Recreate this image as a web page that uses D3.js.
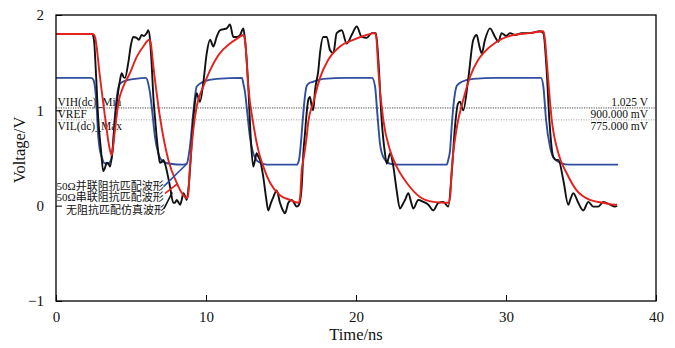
<!DOCTYPE html>
<html lang="en">
<head>
<meta charset="utf-8">
<title>Termination waveforms</title>
<script src="https://d3js.org/d3.v7.min.js"></script>
<style>
  body { margin: 0; background: #fff; }
  svg text { font-family: "Liberation Serif", "Noto Sans CJK SC", serif; fill: #111; }
</style>
</head>
<body>
<div id="container"></div>
<script>
// time in ns, voltage in V
const timeTicks = [0, 10, 20, 30, 40];
const voltTicks = [-1, 0, 1, 2];

// threshold levels (V) and their labels
const levelValues = [1.025, 0.9, 0.775];
const levelNames = ["VIH(dc)_Min", "VREF", "VIL(dc)_Max"];
const levelReadouts = ["1.025 V", "900.000 mV", "775.000 mV"];
const drawnLevels = [1.025, 0.9];

// 50 ohm parallel termination
const parallelWave = [
  [0, 1.34], [2.33, 1.34], [2.49, 1.32], [2.6, 1.24], [2.71, 1.04], [2.82, 0.72], [2.93, 0.58],
  [3.05, 0.51], [3.2, 0.45], [3.47, 0.44], [3.67, 0.48], [3.8, 0.64], [3.93, 0.95], [4.07, 1.16],
  [4.27, 1.28], [4.6, 1.31], [5.27, 1.33], [6.0, 1.34], [6.15, 1.28], [6.27, 1.18], [6.38, 1.04],
  [6.6, 0.72], [6.82, 0.55], [7.15, 0.46], [7.6, 0.44], [8.49, 0.43], [8.71, 0.44], [8.83, 0.51],
  [8.93, 0.62], [9.15, 0.97], [9.38, 1.25], [9.82, 1.3], [10.71, 1.33], [12.4, 1.34], [12.49, 1.28],
  [12.6, 1.19], [12.71, 1.04], [12.93, 0.72], [13.15, 0.55], [13.49, 0.46], [14.05, 0.43],
  [16.05, 0.43], [16.2, 0.48], [16.3, 0.61], [16.45, 0.9], [16.57, 1.11], [16.7, 1.25], [16.82, 1.28],
  [17.15, 1.3], [17.82, 1.33], [19.38, 1.34], [21.07, 1.34], [21.27, 1.25], [21.42, 0.97],
  [21.6, 0.65], [21.82, 0.51], [22.27, 0.44], [22.93, 0.43], [26.05, 0.43], [26.15, 0.48],
  [26.27, 0.58], [26.38, 0.83], [26.49, 1.04], [26.6, 1.18], [26.73, 1.26], [27.05, 1.3],
  [27.82, 1.33], [29.38, 1.34], [32.33, 1.34], [32.49, 1.25], [32.67, 0.9], [32.93, 0.62],
  [33.15, 0.51], [33.6, 0.45], [34.27, 0.43], [37.47, 0.43]
];

// no termination
const unmatchedWave = [
  [0, 1.8], [2.4, 1.8], [2.53, 1.74], [2.67, 1.37], [2.82, 0.9], [3.0, 0.58], [3.15, 0.36],
  [3.27, 0.4], [3.38, 0.45], [3.5, 0.44], [3.6, 0.41], [3.77, 0.58], [3.93, 0.9], [4.1, 1.14],
  [4.27, 1.32], [4.38, 1.39], [4.5, 1.35], [4.6, 1.34], [4.82, 1.5], [5.0, 1.69], [5.15, 1.77],
  [5.38, 1.76], [5.53, 1.74], [5.71, 1.79], [5.87, 1.78], [6.05, 1.81], [6.15, 1.84], [6.27, 1.74],
  [6.38, 1.48], [6.49, 1.14], [6.6, 0.92], [6.71, 0.72], [6.82, 0.56], [6.93, 0.45], [7.05, 0.46],
  [7.15, 0.48], [7.27, 0.44], [7.38, 0.37], [7.6, 0.2], [7.82, 0.03], [7.93, 0.03], [8.05, 0.06],
  [8.15, 0.04], [8.27, 0.01], [8.38, 0.06], [8.49, 0.13], [8.6, 0.1], [8.71, 0.06], [8.82, 0.16],
  [8.93, 0.37], [9.15, 0.9], [9.27, 1.09], [9.38, 1.18], [9.49, 1.13], [9.6, 1.09], [9.82, 1.29],
  [10.05, 1.6], [10.27, 1.74], [10.49, 1.67], [10.71, 1.77], [10.93, 1.84], [11.13, 1.85],
  [11.38, 1.86], [11.6, 1.9], [11.82, 1.77], [12.05, 1.77], [12.27, 1.79], [12.49, 1.86],
  [12.6, 1.74], [12.82, 1.25], [12.98, 0.72], [13.15, 0.41], [13.27, 0.48], [13.38, 0.55],
  [13.5, 0.51], [13.6, 0.48], [13.82, 0.3], [14.0, 0.09], [14.15, -0.05], [14.33, 0.03],
  [14.49, 0.09], [14.71, 0.16], [14.93, 0.03], [15.13, -0.05], [15.27, -0.08], [15.49, 0.03],
  [15.71, 0.06], [15.87, 0.03], [16.05, -0.01], [16.2, 0.01], [16.38, 0.2], [16.49, 0.55],
  [16.6, 0.76], [16.71, 0.97], [16.82, 1.11], [16.93, 1.14], [17.05, 1.04], [17.15, 1.0],
  [17.27, 1.21], [17.49, 1.42], [17.6, 1.6], [17.82, 1.77], [18.05, 1.77], [18.27, 1.63],
  [18.49, 1.6], [18.71, 1.81], [19.05, 1.84], [19.38, 1.7], [19.71, 1.79], [20.05, 1.88],
  [20.38, 1.77], [20.71, 1.76], [21.05, 1.81], [21.33, 1.81], [21.49, 1.53], [21.71, 0.9],
  [21.93, 0.55], [22.05, 0.44], [22.17, 0.5], [22.27, 0.55], [22.49, 0.41], [22.71, 0.16],
  [22.93, -0.03], [23.1, 0.01], [23.27, 0.06], [23.49, 0.13], [23.67, 0.04], [23.82, -0.03],
  [24.15, 0.06], [24.49, 0.04], [24.82, 0.01], [25.15, -0.05], [25.49, 0.03], [25.82, 0.04],
  [26.15, -0.01], [26.38, 0.34], [26.6, 0.83], [26.8, 1.07], [26.93, 1.09], [27.15, 1.0],
  [27.49, 1.34], [27.82, 1.74], [28.05, 1.79], [28.2, 1.69], [28.38, 1.6], [28.6, 1.74],
  [28.93, 1.86], [29.27, 1.77], [29.49, 1.72], [29.71, 1.81], [30.0, 1.78], [30.27, 1.81],
  [30.6, 1.79], [31.05, 1.81], [31.6, 1.81], [32.27, 1.83], [32.49, 1.81], [32.71, 1.42],
  [32.89, 0.9], [33.15, 0.51], [33.33, 0.48], [33.49, 0.48], [33.82, 0.27], [34.15, 0.01],
  [34.3, 0.07], [34.49, 0.13], [34.82, 0.03], [35.15, -0.05], [35.49, 0.04], [35.82, -0.01],
  [36.15, -0.01], [36.49, 0.04], [36.93, 0.01], [37.27, -0.01], [37.4, 0.0]
];

// 50 ohm series termination
const seriesWave = [
  [0, 1.8], [2.47, 1.8], [2.6, 1.77], [2.93, 1.35], [3.27, 0.93], [3.6, 0.58], [3.71, 0.53],
  [3.93, 0.79], [4.15, 1.07], [4.49, 1.25], [4.93, 1.39], [5.38, 1.56], [5.82, 1.67], [6.22, 1.74],
  [6.3, 1.72], [6.49, 1.46], [6.93, 0.93], [7.49, 0.48], [8.05, 0.24], [8.4, 0.13], [8.71, 0.08],
  [8.8, 0.1], [8.93, 0.41], [9.15, 0.79], [9.38, 1.04], [9.82, 1.25], [10.27, 1.42], [10.93, 1.6],
  [11.6, 1.7], [12.15, 1.76], [12.49, 1.79], [12.6, 1.74], [12.82, 1.25], [13.15, 0.86],
  [13.49, 0.58], [13.82, 0.41], [14.27, 0.24], [14.93, 0.11], [15.6, 0.06], [16.15, 0.03],
  [16.27, 0.08], [16.38, 0.37], [16.49, 0.48], [16.71, 0.72], [16.82, 0.88], [17.15, 1.08],
  [17.6, 1.34], [18.15, 1.53], [18.93, 1.67], [19.82, 1.74], [20.71, 1.79], [21.27, 1.81],
  [21.37, 1.74], [21.49, 1.42], [21.82, 0.9], [22.27, 0.58], [22.71, 0.41], [23.38, 0.24],
  [24.27, 0.09], [25.15, 0.04], [26.15, 0.03], [26.27, 0.08], [26.38, 0.37], [26.71, 0.81],
  [27.15, 1.11], [27.6, 1.35], [28.15, 1.53], [28.49, 1.6], [29.38, 1.72], [30.49, 1.79],
  [31.6, 1.81], [32.49, 1.83], [32.6, 1.74], [32.71, 1.53], [33.05, 0.9], [33.49, 0.55],
  [34.05, 0.34], [34.71, 0.16], [35.6, 0.06], [36.49, 0.03], [37.27, 0.01], [37.4, 0.01]
];

// legend rows: text, leader start, leader end (t, V)
const legendNames = ["50Ω并联阻抗匹配波形", "50Ω串联阻抗匹配波形", "无阻抗匹配仿真波形"];
const leaderFrom = [[7.17, 0.2], [7.27, 0.13], [7.2, -0.03]];
const leaderTo = [[8.73, 0.44], [8.1, 0.23], [7.75, 0.14]];

const w = 675, h = 348;
const plotL = 56, plotR = 656, plotT = 15, plotB = 301;

const svg = d3.select("#container").append("svg")
  .attr("width", w).attr("height", h)
  .attr("viewBox", `0 0 ${w} ${h}`);

const x = d3.scaleLinear().domain([0, 40]).range([plotL, plotR]);
const y = d3.scaleLinear().domain([-1, 2]).range([plotB, plotT]);

// threshold lines
const levelStyle = [{ c: "#444", d: "1.2,1.2" }, { c: "#9a9a9a", d: "1,1.5" }];
svg.append("g").selectAll("line").data(drawnLevels).join("line")
  .attr("x1", plotL).attr("x2", plotR - 1)
  .attr("y1", d => y(d)).attr("y2", d => y(d))
  .attr("stroke", (d, i) => levelStyle[i].c)
  .attr("stroke-width", 1)
  .attr("stroke-dasharray", (d, i) => levelStyle[i].d);

svg.append("g").selectAll("text").data(levelNames).join("text")
  .attr("x", plotL + 1.5)
  .attr("y", (d, i) => y(levelValues[i]) - 2)
  .attr("font-size", 11.5)
  .text(d => d);

svg.append("g").selectAll("text").data(levelReadouts).join("text")
  .attr("x", 648)
  .attr("y", (d, i) => y(levelValues[i]) - 2)
  .attr("text-anchor", "end")
  .attr("font-size", 11.5)
  .text(d => d);

// waveforms
const line = d3.line().x(d => x(d[0])).y(d => y(d[1])).curve(d3.curveMonotoneX);
const waves = [
  { data: parallelWave, color: "#2e4e9e" },
  { data: unmatchedWave, color: "#111" },
  { data: seriesWave, color: "#e3221e" }
];
svg.append("g").selectAll("path").data(waves).join("path")
  .attr("d", d => line(d.data))
  .attr("fill", "none")
  .attr("stroke", d => d.color)
  .attr("stroke-width", 1.9)
  .attr("stroke-linejoin", "round");

// legend with leader lines
const leaderColors = ["#2e4e9e", "#e3221e", "#111"];
svg.append("g").selectAll("line").data(leaderFrom).join("line")
  .attr("x1", d => x(d[0])).attr("y1", d => y(d[1]))
  .attr("x2", (d, i) => x(leaderTo[i][0])).attr("y2", (d, i) => y(leaderTo[i][1]))
  .attr("stroke", (d, i) => leaderColors[i])
  .attr("stroke-width", 1.6);

const legendRowY = [189.5, 200.5, 213.5];
svg.append("g").selectAll("text").data(legendNames).join("text")
  .attr("x", (d, i) => i === 2 ? 66 : 56.5)
  .attr("y", (d, i) => legendRowY[i])
  .attr("font-size", 11)
  .text(d => d);

// frame and inward ticks
svg.append("rect")
  .attr("x", plotL).attr("y", plotT)
  .attr("width", plotR - plotL).attr("height", plotB - plotT)
  .attr("fill", "none").attr("stroke", "#000").attr("stroke-width", 1.3);

const xAxis = d3.axisBottom(x).tickValues(timeTicks).tickSizeInner(-6).tickSizeOuter(0).tickPadding(10);
const gx = svg.append("g").attr("transform", `translate(0,${plotB})`).call(xAxis);
gx.select(".domain").remove();
gx.selectAll("line").attr("stroke", "#000");
gx.selectAll("text").attr("font-size", 15).attr("font-family", "Liberation Serif").attr("fill", "#111");

const yAxis = d3.axisLeft(y).tickValues(voltTicks).tickSizeInner(-6).tickSizeOuter(0).tickPadding(12)
  .tickFormat(d3.format("d"));
const gy = svg.append("g").attr("transform", `translate(${plotL},0)`).call(yAxis);
gy.select(".domain").remove();
gy.selectAll("line").attr("stroke", "#000");
gy.selectAll("text").attr("font-size", 15).attr("font-family", "Liberation Serif").attr("fill", "#111");

// axis titles
svg.append("text")
  .attr("x", (plotL + plotR) / 2).attr("y", 340)
  .attr("text-anchor", "middle").attr("font-size", 16.5)
  .text("Time/ns");

svg.append("text")
  .attr("transform", `translate(25,${150}) rotate(-90)`)
  .attr("text-anchor", "middle").attr("font-size", 16.5)
  .text("Voltage/V");
</script>
</body>
</html>
